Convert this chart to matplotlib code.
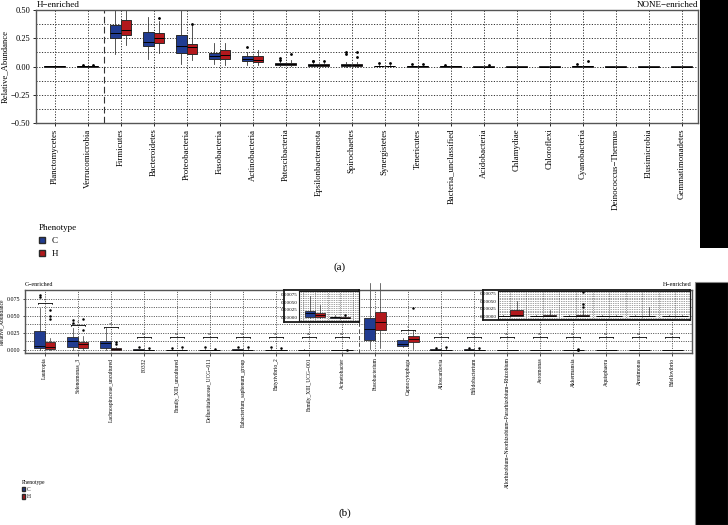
import numpy as np
import matplotlib.pyplot as plt
from matplotlib.patches import Patch, Rectangle
from matplotlib.ticker import MultipleLocator

plt.rcParams['font.family'] = ['Liberation Serif', 'DejaVu Serif']

W, H = 728, 525
C_COL = '#213c91'
H_COL = '#b2181c'
EDGE = '#2a2a2a'

# ---- panel (a): phylum level ----
phyla = ["Planctomycetes", "Verrucomicrobia", "Firmicutes", "Bacteroidetes", "Proteobacteria",
         "Fusobacteria", "Actinobacteria", "Patescibacteria", "Epsilonbacteraeota", "Spirochaetes",
         "Synergistetes", "Tenericutes", "Bacteria_unclassified", "Acidobacteria", "Chlamydiae",
         "Chloroflexi", "Cyanobacteria", "Deinococcus\u2212Thermus", "Elusimicrobia", "Gemmatimonadetes"]

a_c_q1 = [0.000, 0.000, 0.250, 0.185, 0.120, 0.065, 0.050, 0.012, 0.006, 0.005, 0.001, 0.000, 0.000, 0.000, 0.000, 0.000, 0.000, 0.000, 0.000, 0.000]
a_c_med = [0.001, 0.001, 0.300, 0.220, 0.180, 0.090, 0.070, 0.020, 0.010, 0.012, 0.003, 0.001, 0.001, 0.000, 0.000, 0.000, 0.001, 0.000, 0.000, 0.000]
a_c_q3 = [0.003, 0.004, 0.365, 0.305, 0.280, 0.120, 0.090, 0.030, 0.018, 0.022, 0.006, 0.003, 0.002, 0.001, 0.001, 0.001, 0.002, 0.001, 0.001, 0.001]
a_c_lo = [0.000, 0.000, 0.110, 0.070, 0.020, 0.020, 0.010, 0.002, 0.001, 0.000, 0.000, 0.000, 0.000, 0.000, 0.000, 0.000, 0.000, 0.000, 0.000, 0.000]
a_c_hi = [0.005, 0.007, 0.500, 0.440, 0.500, 0.210, 0.130, 0.050, 0.035, 0.040, 0.012, 0.006, 0.004, 0.002, 0.002, 0.002, 0.004, 0.002, 0.002, 0.002]
a_c_out = [[], [0.010], [], [], [], [], [0.170], [0.060, 0.075], [0.045, 0.050], [0.110, 0.130],
           [0.030], [0.020], [0.015], [], [], [], [0.020], [], [], []]

a_h_q1 = [0.000, 0.000, 0.280, 0.210, 0.110, 0.070, 0.040, 0.012, 0.005, 0.005, 0.001, 0.000, 0.000, 0.000, 0.000, 0.000, 0.000, 0.000, 0.000, 0.000]
a_h_med = [0.001, 0.001, 0.320, 0.250, 0.170, 0.100, 0.060, 0.020, 0.010, 0.010, 0.003, 0.001, 0.001, 0.000, 0.000, 0.000, 0.001, 0.000, 0.000, 0.000]
a_h_q3 = [0.003, 0.004, 0.415, 0.300, 0.200, 0.150, 0.090, 0.032, 0.018, 0.020, 0.006, 0.003, 0.002, 0.001, 0.001, 0.001, 0.002, 0.001, 0.001, 0.001]
a_h_lo = [0.000, 0.000, 0.190, 0.120, 0.060, 0.010, 0.010, 0.002, 0.001, 0.000, 0.000, 0.000, 0.000, 0.000, 0.000, 0.000, 0.000, 0.000, 0.000, 0.000]
a_h_hi = [0.005, 0.007, 0.510, 0.400, 0.370, 0.210, 0.150, 0.060, 0.035, 0.040, 0.012, 0.006, 0.004, 0.003, 0.002, 0.002, 0.004, 0.002, 0.002, 0.002]
a_h_out = [[], [0.010], [], [0.430], [0.380], [], [], [0.110], [0.050], [0.080, 0.130],
           [0.030], [0.020], [], [0.015], [], [], [0.050], [], [], []]

# ---- panel (b): genus level ----
genera = ["Lautropia", "Selenomonas_3", "Lachnospiraceae_uncultured", "F0332", "Family_XIII_uncultured",
          "Defluviitaleaceae_UCG\u2212011", "Eubacterium_saphenum_group", "Butyrivibrio_2",
          "Family_XIII_UCG\u2212001", "Acinetobacter", "Fusobacterium", "Capnocytophaga", "Alloscardovia",
          "Bifidobacterium", "Allorhizobium\u2212Neorhizobium\u2212Pararhizobium\u2212Rhizobium",
          "Aeromonas", "Akkermansia", "Aquisphaera", "Arenimonas", "Bdellovibrio"]

b_c_q1 = [0.0035, 0.0050, 0.0024, 0, 0, 0, 0, 0, 0.00003, 0, 0.0147, 0.0060, 0, 0, 0, 0, 0, 0, 0, 0]
b_c_med = [0.0060, 0.0130, 0.0098, 0.0002, 0.0002, 0.0002, 0.0003, 0.0002, 0.00016, 0.00002, 0.0310, 0.0090, 0.0002, 0.0002, 0.000005, 0.000005, 0.000005, 0.000005, 0.000005, 0.000005]
b_c_q3 = [0.0280, 0.0190, 0.0137, 0.0008, 0.0006, 0.0006, 0.0008, 0.0006, 0.00021, 0.00004, 0.0470, 0.0147, 0.0008, 0.0008, 0.00001, 0.00001, 0.00001, 0.00001, 0.00001, 0.00001]
b_c_lo = [0, 0, 0, 0, 0, 0, 0, 0, 0, 0, 0.0020, 0.0040, 0, 0, 0, 0, 0, 0, 0, 0]
b_c_hi = [0.0620, 0.0320, 0.0320, 0.0020, 0.0015, 0.0015, 0.0020, 0.0020, 0.00070, 0.00008, 0.0980, 0.0180, 0.0020, 0.0020, 0.00002, 0.00002, 0.00002, 0.00002, 0.00002, 0.00002]
b_c_out = [[0.078, 0.081], [0.040, 0.044], [], [0.004], [0.003], [0.004], [0.005], [0.004], [], [],
           [], [], [0.003], [0.003], [], [], [], [], [], []]

b_h_q1 = [0.0015, 0.0035, 0.0005, 0, 0, 0, 0, 0, 0.00003, 0, 0.0290, 0.0120, 0, 0, 0, 0, 0, 0, 0, 0]
b_h_med = [0.0050, 0.0080, 0.0010, 0.0002, 0.0002, 0.0002, 0.0002, 0.0002, 0.00010, 0.00001, 0.0410, 0.0160, 0.0002, 0.0002, 0.00002, 0.000005, 0.000005, 0.000005, 0.000005, 0.000005]
b_h_q3 = [0.0110, 0.0120, 0.0030, 0.0006, 0.0006, 0.0006, 0.0006, 0.0006, 0.00015, 0.00003, 0.0560, 0.0200, 0.0006, 0.0006, 0.00019, 0.00002, 0.00002, 0.00001, 0.00001, 0.00001]
b_h_lo = [0, 0, 0, 0, 0, 0, 0, 0, 0, 0, 0.0030, 0.0020, 0, 0, 0, 0, 0, 0, 0, 0]
b_h_hi = [0.0176, 0.0200, 0.0050, 0.0015, 0.0015, 0.0015, 0.0015, 0.0015, 0.00040, 0.00006, 0.0980, 0.0290, 0.0025, 0.0020, 0.00050, 0.00020, 0.00020, 0.00005, 0.00030, 0.00005]
b_h_out = [[0.045, 0.050, 0.058], [0.030, 0.045], [0.008, 0.012], [0.003], [0.004], [0.002], [0.005], [0.003], [], [0.00008],
           [], [0.062], [0.005], [0.003], [], [], [0.0003, 0.0004, 0.00082], [], [], []]

# significance brackets above each genus
b_sig_y = [0.069, 0.037, 0.034, 0.019, 0.019, 0.019, 0.019, 0.019, 0.019, 0.019,
           np.nan, 0.029, 0.019, 0.019, 0.019, 0.019, 0.019, 0.019, 0.019, 0.019]
b_sig_txt = ["*", "*", "**", "ns", "ns", "ns", "ns", "ns", "ns", "ns",
             "", "*", "ns", "ns", "ns", "ns", "ns", "ns", "ns", "ns"]

inset1_idx = [8, 9]
inset2_idx = [14, 15, 16, 17, 18, 19]


def px_axes(fig, x0, y0, x1, y1, **kw):
    # rect from pixel corners (top-left origin)
    return fig.add_axes([x0 / W, 1 - y1 / H, (x1 - x0) / W, (y1 - y0) / H], **kw)


def draw_boxes(ax, idx, q1, med, q3, lo, hi, out, color, offset, width, ms=1.0, lw=0.7):
    stats = []
    for i in idx:
        stats.append(dict(q1=q1[i], med=med[i], q3=q3[i], whislo=lo[i], whishi=hi[i],
                          fliers=np.array(out[i])))
    pos = [i + offset for i in idx]
    art = ax.bxp(stats, positions=pos, widths=width, patch_artist=True, showcaps=False,
                 manage_ticks=False,
                 boxprops=dict(facecolor=color, edgecolor=EDGE, linewidth=lw),
                 medianprops=dict(color='black', linewidth=lw),
                 whiskerprops=dict(color=EDGE, linewidth=lw * 0.8),
                 flierprops=dict(marker='o', markersize=ms, markerfacecolor='black',
                                 markeredgecolor='black', linestyle='none'))
    return art


def style_grid(ax, lw=0.7):
    ax.grid(True, which='both', linestyle=(0, (1.2, 1.6)), color='#333333', linewidth=lw)
    ax.set_axisbelow(True)
    for s in ax.spines.values():
        s.set_color('#555555')
        s.set_linewidth(1.0)


fig = plt.figure(figsize=(W / 100, H / 100), dpi=100)

# ---------------- panel (a) ----------------
ax_a = px_axes(fig, 36, 10, 698, 123)
xa = np.arange(len(phyla))
draw_boxes(ax_a, xa, a_c_q1, a_c_med, a_c_q3, a_c_lo, a_c_hi, a_c_out, C_COL, -0.16, 0.31)
draw_boxes(ax_a, xa, a_h_q1, a_h_med, a_h_q3, a_h_lo, a_h_hi, a_h_out, H_COL, 0.16, 0.31)
ax_a.set_xlim(-0.57, len(phyla) - 0.5)
ax_a.set_ylim(-0.5, 0.5)
ax_a.yaxis.set_minor_locator(MultipleLocator(0.125))
ax_a.set_xticks(xa)
ax_a.set_xticklabels(phyla, rotation=90, fontsize=6.3)
ax_a.set_yticks([-0.5, -0.25, 0, 0.25, 0.5])
ax_a.set_yticklabels(["\u22120.50", "\u22120.25", "0.00", "0.25", "0.50"], fontsize=6.0)
ax_a.tick_params(axis='both', which='major', length=2.5, width=0.6, pad=1.5)
ax_a.tick_params(axis='y', which='minor', length=0)
ax_a.set_ylabel("Relative_Abundance", fontsize=6.2, labelpad=1.5)
style_grid(ax_a)
ax_a.axvline(1.5, color='#333333', linewidth=0.8, linestyle=(0, (6, 3)))

fig.text(37 / W, 1 - 5 / H, "H\u2212enriched", fontsize=6.5, va='center', ha='left')
fig.text(698 / W, 1 - 5 / H, "NONE\u2212enriched", fontsize=6.5, va='center', ha='right')

leg_a = fig.legend(handles=[Patch(facecolor=C_COL, edgecolor=EDGE), Patch(facecolor=H_COL, edgecolor=EDGE)],
                   labels=["C", "H"], title="Phenotype", loc='upper left',
                   bbox_to_anchor=(31 / W, 1 - 216 / H), frameon=False, fontsize=6.5,
                   title_fontsize=6.5, handlelength=0.6, handleheight=0.6, labelspacing=0.55,
                   handletextpad=0.8, alignment='left')
fig.text(340 / W, 1 - 267 / H, "(a)", fontsize=8, ha='center', va='center')

# ---------------- panel (b) ----------------
ax_b = px_axes(fig, 25, 290, 692, 353)
xb = np.arange(len(genera))
art_c = draw_boxes(ax_b, xb, b_c_q1, b_c_med, b_c_q3, b_c_lo, b_c_hi, b_c_out, C_COL, -0.16, 0.32, ms=0.8, lw=0.6)
art_h = draw_boxes(ax_b, xb, b_h_q1, b_h_med, b_h_q3, b_h_lo, b_h_hi, b_h_out, H_COL, 0.16, 0.32, ms=0.8, lw=0.6)
for w in art_c['whiskers'] + art_h['whiskers']:
    w.set_clip_on(False)
ax_b.set_xlim(-0.6, len(genera) - 0.4)
ax_b.set_ylim(-0.0045, 0.088)
ax_b.set_yticks([0, 0.025, 0.05, 0.075])
ax_b.set_yticklabels(["0.000", "0.025", "0.050", "0.075"], fontsize=4.3)
ax_b.yaxis.set_minor_locator(MultipleLocator(0.0125))
ax_b.set_xticks(xb)
ax_b.set_xticklabels(genera, rotation=90, fontsize=4.0)
ax_b.tick_params(axis='both', which='major', length=1.8, width=0.5, pad=1.5)
ax_b.tick_params(axis='y', which='minor', length=0)
ax_b.set_ylabel("Relative_Abundance", fontsize=4.0, labelpad=2)
style_grid(ax_b, lw=0.6)
ax_b.axvline(9.5, color='#333333', linewidth=0.6, linestyle=(0, (5, 3)))

for i, (y, t) in enumerate(zip(b_sig_y, b_sig_txt)):
    if np.isnan(y):
        continue
    ax_b.plot([i - 0.22, i + 0.22], [y, y], color='black', linewidth=0.6)
    ax_b.plot([i - 0.22, i - 0.22], [y, y - 0.0015], color='black', linewidth=0.5)
    ax_b.plot([i + 0.22, i + 0.22], [y, y - 0.0015], color='black', linewidth=0.5)
    ax_b.text(i, y + 0.001, t, fontsize=3, ha='center', va='bottom', color='#333333')

fig.text(25 / W, 1 - 284 / H, "C\u2212enriched", fontsize=4.3, va='center', ha='left')
fig.text(692 / W, 1 - 285 / H, "H\u2212enriched", fontsize=4.3, va='center', ha='right')


def make_inset(frame_px, plot_px, idx, xlim):
    fr = px_axes(fig, *frame_px)
    fr.set_xticks([])
    fr.set_yticks([])
    fr.set_facecolor('white')
    for s in fr.spines.values():
        s.set_color('#1a1a1a')
        s.set_linewidth(1.3)
    ins = px_axes(fig, *plot_px)
    draw_boxes(ins, idx, b_c_q1, b_c_med, b_c_q3, b_c_lo, b_c_hi, b_c_out, C_COL, -0.2, 0.38, ms=0.8, lw=0.6)
    draw_boxes(ins, idx, b_h_q1, b_h_med, b_h_q3, b_h_lo, b_h_hi, b_h_out, H_COL, 0.2, 0.38, ms=0.8, lw=0.6)
    ins.set_xlim(*xlim)
    ins.set_ylim(-0.0001, 0.00085)
    ins.set_yticks([0, 0.00025, 0.0005, 0.00075])
    ins.set_yticklabels(["0.00000", "0.00025", "0.00050", "0.00075"], fontsize=3.6)
    ins.yaxis.set_minor_locator(MultipleLocator(0.0000625))
    ins.xaxis.set_minor_locator(MultipleLocator(0.5))
    ins.set_xticks(idx)
    ins.set_xticklabels([])
    ins.tick_params(axis='both', which='both', length=0, pad=1)
    ins.grid(True, which='both', linestyle=(0, (1, 1.5)), color='#444444', linewidth=0.5)
    ins.set_axisbelow(True)
    for s in ins.spines.values():
        s.set_color('#1a1a1a')
        s.set_linewidth(0.8)
    return ins


make_inset((284, 290, 359, 322), (299, 291, 359, 321), inset1_idx, (7.36, 9.76))
make_inset((483, 290, 690, 320), (498, 291, 690, 319), inset2_idx, (13.64, 19.45))

leg_b = fig.legend(handles=[Patch(facecolor=C_COL, edgecolor=EDGE), Patch(facecolor=H_COL, edgecolor=EDGE)],
                   labels=["C", "H"], title="Phenotype", loc='upper left',
                   bbox_to_anchor=(18 / W, 1 - 476 / H), frameon=False, fontsize=4.0,
                   title_fontsize=4.0, handlelength=0.6, handleheight=0.8, labelspacing=0.4,
                   handletextpad=0.3, alignment='left', borderpad=0.2)
fig.text(345 / W, 1 - 513 / H, "(b)", fontsize=8, ha='center', va='center')

# black strips on the right edge of the original scan
fig.patches.append(Rectangle((700 / W, 1 - 248 / H), 28 / W, 248 / H, transform=fig.transFigure,
                             facecolor='black', edgecolor='none', zorder=10))
fig.patches.append(Rectangle((695 / W, 0), 33 / W, (H - 282) / H, transform=fig.transFigure,
                             facecolor='black', edgecolor='#888888', linewidth=0.8, zorder=10))

fig.savefig("out.png", dpi=100)
